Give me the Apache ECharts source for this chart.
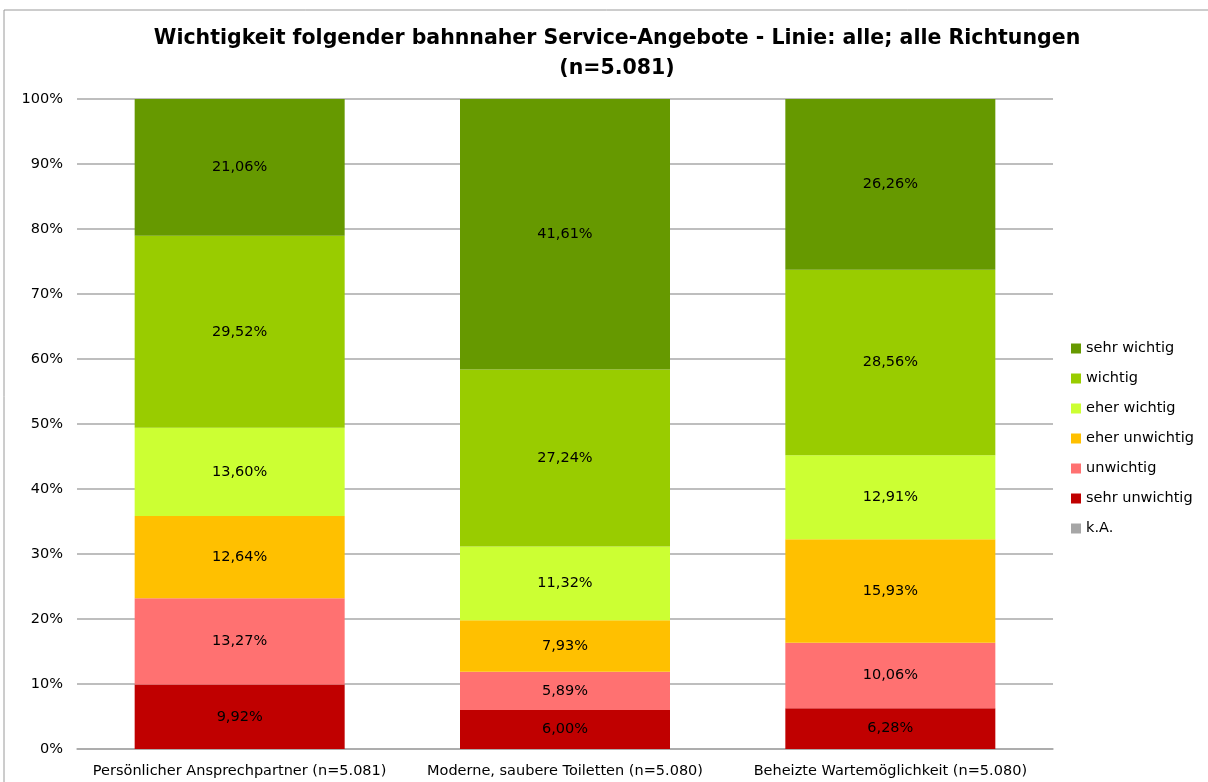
<!DOCTYPE html>
<html>
<head>
	<title>Service-Angebote</title>
	<meta charset="utf-8">
	<script src="https://cdn.jsdelivr.net/npm/echarts@6/dist/echarts.min.js"></script>
	<style type="text/css">
		body{ margin:0; background:#fff; }
		#main{ width:1208px; height:782px; }
	</style>
</head>
<body>
	<div id="main"></div>
	<script type="text/javascript">
		var categories = ['Persönlicher Ansprechpartner (n=5.081)', 'Moderne, saubere Toiletten (n=5.080)', 'Beheizte Wartemöglichkeit (n=5.080)'];
		var sehrUnwichtig = [9.92, 6.00, 6.28];
		var unwichtig = [13.27, 5.89, 10.06];
		var eherUnwichtig = [12.64, 7.93, 15.93];
		var eherWichtig = [13.60, 11.32, 12.91];
		var wichtig = [29.52, 27.24, 28.56];
		var sehrWichtig = [21.06, 41.61, 26.26];
		var keineAngabe = [0, 0, 0];
		var yTicks = [0, 100, 10];

		var font = 'DejaVu Sans';
		var myChart = echarts.init(document.getElementById('main'));

		function mk(name, data, color){
			return {
				name: name,
				type: 'bar',
				stack: 'all',
				barWidth: 210,
				data: data,
				itemStyle: { color: color },
				label: {
					show: true,
					position: 'inside',
					color: '#000',
					fontFamily: font,
					fontSize: 14.5,
					formatter: function(p){
						if(!p.value) return '';
						return p.value.toFixed(2).replace('.', ',') + '%';
					}
				}
			};
		}

		var option = {
			animation: false,
			title: {
				text: 'Wichtigkeit folgender bahnnaher Service-Angebote - Linie: alle; alle Richtungen\n(n=5.081)',
				left: 612,
				textAlign: 'center',
				top: 19,
				textStyle: {
					fontFamily: font,
					fontWeight: 'bold',
					fontSize: 20.5,
					lineHeight: 30,
					color: '#000'
				}
			},
			graphic: [{
				type: 'rect',
				shape: { x: 4, y: 10, width: 1300, height: 900 },
				style: { fill: null, stroke: '#9a9a9a', lineWidth: 1 },
				silent: true
			}],
			legend: {
				orient: 'vertical',
				left: 1066,
				top: 336,
				itemWidth: 10,
				itemHeight: 10,
				itemGap: 15,
				icon: 'rect',
				textStyle: { fontFamily: font, fontSize: 14.5, color: '#000' },
				data: ['sehr wichtig', 'wichtig', 'eher wichtig', 'eher unwichtig', 'unwichtig', 'sehr unwichtig', 'k.A.']
			},
			grid: { left: 77, right: 155, top: 99, bottom: 33 },
			xAxis: {
				type: 'category',
				data: categories,
				axisTick: { show: false },
				axisLine: { lineStyle: { color: '#a8a8a8', width: 1.5 } },
				axisLabel: { interval: 0, fontFamily: font, fontSize: 14.5, color: '#000', margin: 15 }
			},
			yAxis: {
				type: 'value',
				min: yTicks[0],
				max: yTicks[1],
				interval: yTicks[2],
				axisLabel: { formatter: '{value}%', fontFamily: font, fontSize: 14.5, color: '#000', margin: 14 },
				axisLine: { show: false },
				axisTick: { show: false },
				splitLine: { lineStyle: { color: '#a8a8a8', width: 1.5 } }
			},
			series: [
				mk('sehr unwichtig', sehrUnwichtig, '#c00000'),
				mk('unwichtig', unwichtig, '#ff7171'),
				mk('eher unwichtig', eherUnwichtig, '#ffc000'),
				mk('eher wichtig', eherWichtig, '#ccff33'),
				mk('wichtig', wichtig, '#99cc00'),
				mk('sehr wichtig', sehrWichtig, '#669900'),
				mk('k.A.', keineAngabe, '#a6a6a6')
			]
		};
		myChart.setOption(option);
	</script>
</body>
</html>
